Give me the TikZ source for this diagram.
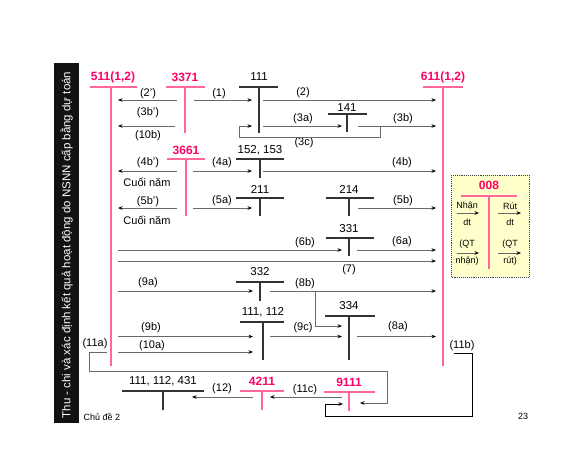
\documentclass[tikz,border=0pt]{standalone}
\usepackage{fontspec}
\setmainfont{Liberation Sans}
\usetikzlibrary{arrows.meta}
\definecolor{tpink}{RGB}{255,0,102}
\definecolor{lpink}{RGB}{255,102,153}
\definecolor{boxy}{RGB}{255,255,204}
\definecolor{agray}{RGB}{105,105,105}
\tikzset{
 lbl/.style={font=\fontsize{11}{12}\selectfont, inner sep=0pt},
 acc/.style={font=\fontsize{11.5}{13}\selectfont, inner sep=0pt},
 pacc/.style={font=\bfseries\fontsize{12}{14}\selectfont, text=tpink, inner sep=0pt},
 small/.style={font=\fontsize{9}{10}\selectfont, inner sep=0pt},
 tline/.style={draw=black!80, line width=1.3pt},
 ptline/.style={draw=lpink, line width=1.6pt},
 arr/.style={draw=agray, line width=0.9pt, -{Stealth[length=4.5pt,width=3.6pt,color=black]}},
 blkarr/.style={draw=black, line width=0.9pt, -{Stealth[length=4.5pt,width=3.6pt,color=black]}},
}
\begin{document}
\begin{tikzpicture}[x=1pt,y=-1pt]
\useasboundingbox (0,0) rectangle (577,472);
% side bar
\fill[black!93] (54,63) rectangle (79,423);
\node[rotate=90, text=white, font=\fontsize{11.5}{12}\selectfont, inner sep=0pt] (side) at (66.5,245) {Thu - chi và xác định kết quả hoạt động do NSNN cấp bằng dự toán};
% 008 box
\draw[fill=boxy, draw=black!75, densely dotted, line width=0.9pt] (451,175) rectangle (529,277);
% T accounts: name/text/tx/ty/x1/x2/ly/vx/vy/style/linestyle
\foreach \n/\t/\tx/\ty/\xa/\xb/\ly/\vx/\vy/\st/\ls in {
  t511/{511(1,2)}/113/77/90/137/87/111/366/pacc/ptline,
  t3371/3371/185/77/166/205/87/185/133/pacc/ptline,
  t111/111/259/77/239/278/87/259/133/acc/tline,
  t611/{611(1,2)}/443/77/423/463/87/443/366/pacc/ptline,
  t141/141/347/108/328/367/114/347/132/acc/tline,
  t3661/3661/186/150/167/205/159/186/216/pacc/ptline,
  t152/{152, 153}/260/150/236/284/159/260/178/acc/tline,
  t211/211/260/189/236/284/198/260/216/acc/tline,
  t214/214/349/189/326/374/198/349/216/acc/tline,
  t331/331/349/229/326/374/238/349/256/acc/tline,
  t332/332/260/272/236/284/282/260/301/acc/tline,
  t334/334/349/306/325/375/316/349/360/acc/tline,
  t1112/{111, 112}/263/312/240/284/322/263/360/acc/tline,
  t008/008/489/185/461/517/196/489/269/pacc/ptline,
  t4211/4211/262/381/240/284/391/262/410/pacc/ptline,
  t9111/9111/349/382/324/375/392/349/411/pacc/ptline,
  t431/{111, 112, 431}/163/381/122/204/391/163/410/acc/tline}{
  \node[\st] (\n) at (\tx,\ty) {\t};
  \coordinate (\n L) at (\xa,\ly);
  \coordinate (\n R) at (\xb,\ly);
  \coordinate (\n T) at (\vx,\ly);
  \coordinate (\n B) at (\vx,\vy);
  \draw[\ls] (\n L) -- (\n R);
  \draw[\ls] (\n T) -- (\n B);
}
% labels
\foreach \n/\t/\x/\y in {
  l2p/{(2')}/148/94, l1/{(1)}/219/94, l2/{(2)}/303/93,
  l3bp/{(3b')}/148/113, l10b/{(10b)}/148/136, l3a/{(3a)}/303/119, l3b/{(3b)}/403/119, l3c/{(3c)}/304/143,
  l4bp/{(4b')}/148/163, cn1/{Cuối năm}/147/182, l4a/{(4a)}/222/163, l4b/{(4b)}/402/163,
  l5bp/{(5b')}/148/202, cn2/{Cuối năm}/147/220, l5a/{(5a)}/222/201, l5b/{(5b)}/403/201,
  l6b/{(6b)}/305/243, l6a/{(6a)}/402/242, l7/{(7)}/349/270,
  l9a/{(9a)}/148/283, l8b/{(8b)}/305/284, l9c/{(9c)}/303/328, l8a/{(8a)}/398/327,
  l9b/{(9b)}/151/328, l10a/{(10a)}/152/346, l11a/{(11a)}/95/344, l11b/{(11b)}/462/346,
  l11c/{(11c)}/305/390, l12/{(12)}/222/389}{
  \node[lbl] (\n) at (\x,\y) {\t};
}
% coordinates for connectors
\foreach \n/\x/\y in {
  a2pS/177/100, a2pE/118/100, a1S/194/100, a1E/252/100, a2S/263/100, a2E/436/100,
  a3bpS/175/126, a3bpE/118/126, a3aS/263/126, a3aE/342/126, a3bS/358/126, a3bE/436/126,
  c3a/380/126, c3b/380/137, c3c/239/137, c3d/239/126, c3E/252/126,
  a4bpS/177/171, a4bpE/118/171, a4aS/193/171, a4aE/252/171, a4bS/263/171, a4bE/436/171,
  a5bpS/177/208, a5bpE/118/208, a5aS/193/208, a5aE/252/208, a5bS/358/208, a5bE/436/208,
  a6bS/118/250, a6bE/342/250, a6aS/357/250, a6aE/436/250, a7S/118/261, a7E/436/261,
  a9aS/118/291, a9aE/253/291, a8bS/270/291, a8bE/436/291, b8a/315/291, b8b/315/326, b8E/342/326,
  a9cS/270/336.5, a9cE/342/336.5, a8aS/357/336.5, a8aE/436/336.5,
  a9bS/118/336.5, a9bE/253/336.5, a10aS/118/352, a10aE/253/352,
  p11a/107/352, p11b/89/352, p11c/89/371, p11d/387/371, p11e/387/403, p11E/360/403,
  q11a/454/353, q11b/472/353, q11c/472/416, q11d/325/416, q11e/325/404, q11E/343/404,
  a11cS/342/397, a11cE/270/397, a12S/253/397, a12E/192/397,
  bx1S/457/213, bx1E/479/213, bx2S/498/213, bx2E/521/213,
  bx3S/457/253, bx3E/479/253, bx4S/498/253, bx4E/521/253}{
  \coordinate (\n) at (\x,\y);
}
\foreach \s/\e in {a2pS/a2pE, a1S/a1E, a2S/a2E, a3bpS/a3bpE, a3aS/a3aE, a3bS/a3bE,
  a4bpS/a4bpE, a4aS/a4aE, a4bS/a4bE, a5bpS/a5bpE, a5aS/a5aE, a5bS/a5bE,
  a6bS/a6bE, a6aS/a6aE, a7S/a7E, a9aS/a9aE, a8bS/a8bE, a9cS/a9cE, a8aS/a8aE,
  a9bS/a9bE, a10aS/a10aE, a11cS/a11cE, a12S/a12E}{
  \draw[arr] (\s) -- (\e);
}
\draw[arr] (c3a) -- (c3b) -- (c3c) -- (c3d) -- (c3E);
\draw[arr] (b8a) -- (b8b) -- (b8E);
\draw[arr] (p11a) -- (p11b) -- (p11c) -- (p11d) -- (p11e) -- (p11E);
\draw[blkarr] (q11a) -- (q11b) -- (q11c) -- (q11d) -- (q11e) -- (q11E);
% box contents
\foreach \s/\e in {bx1S/bx1E, bx2S/bx2E, bx3S/bx3E, bx4S/bx4E}{
  \draw[arr, line width=0.7pt] (\s) -- (\e);
}
\foreach \n/\t/\x/\y in {
  bn1/{Nhận}/467/206, bn2/dt/467/222, bn3/{(QT}/467/244, bn4/{nhận)}/467/261,
  br1/{Rút}/510/206, br2/dt/510/222, br3/{(QT}/510/244, br4/{rút)}/510/261}{
  \node[small] (\n) at (\x,\y) {\t};
}
% footer
\node[font=\fontsize{9}{10}\selectfont, inner sep=0pt] (chude) at (102,417) {Chủ đề 2};
\node[font=\fontsize{9}{10}\selectfont, inner sep=0pt] (page) at (523,416) {23};
\end{tikzpicture}
\end{document}
